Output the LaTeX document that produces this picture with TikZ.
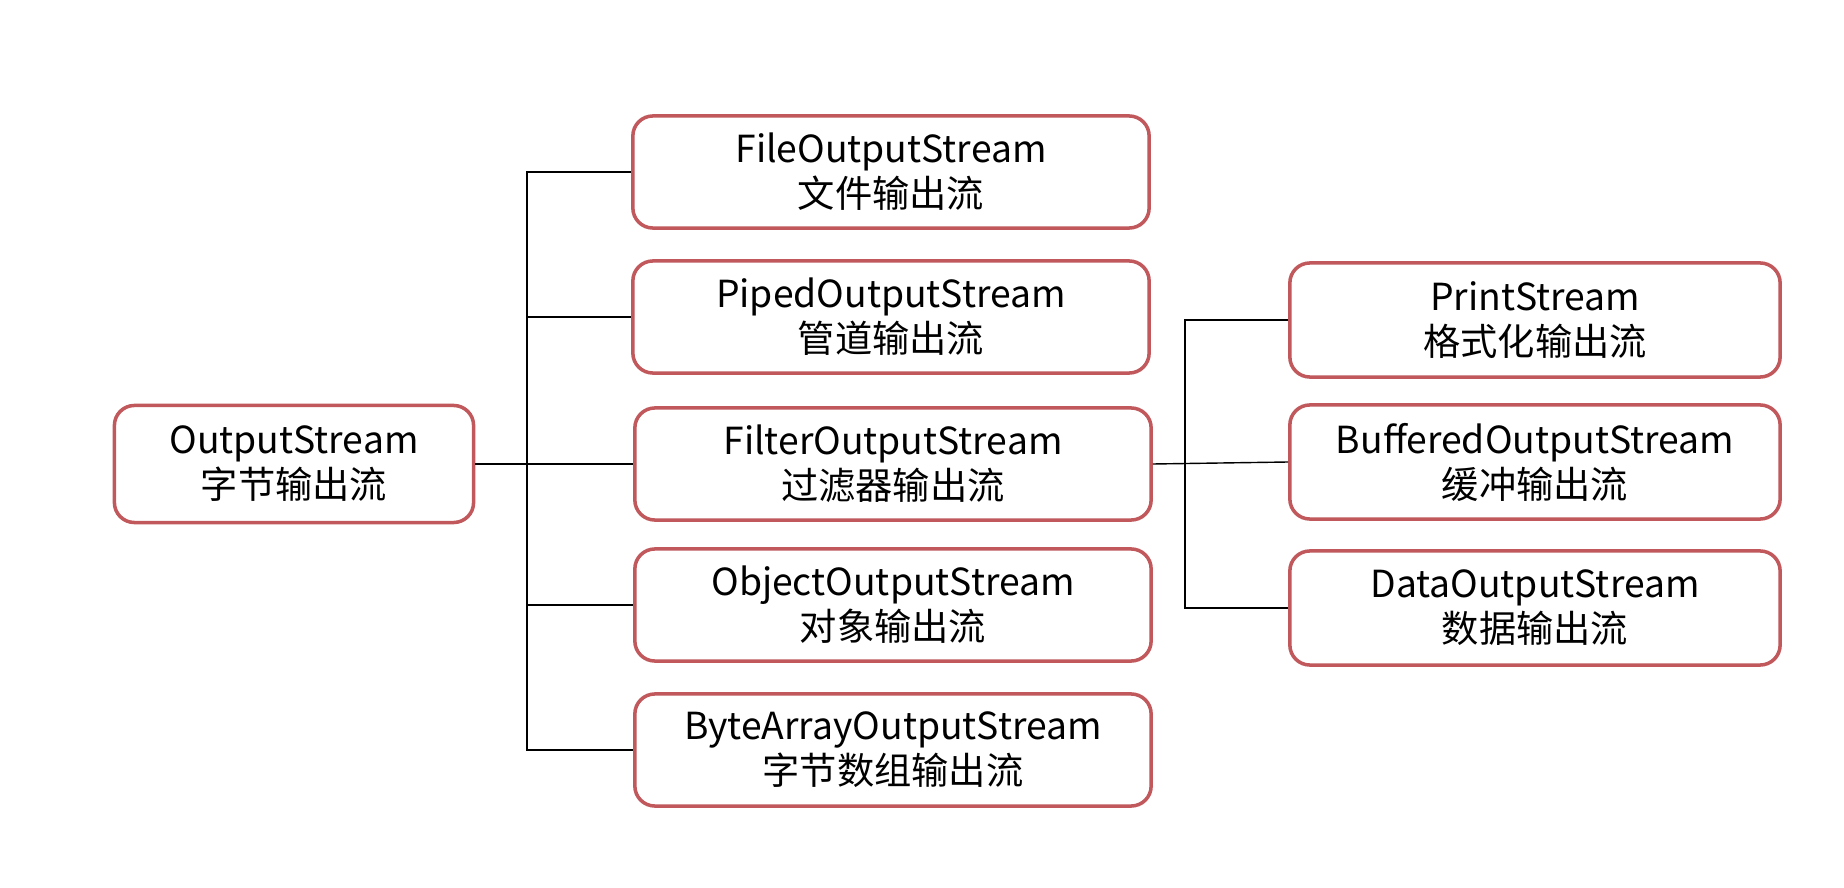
\documentclass[tikz,border=0pt]{standalone}
\usepackage{fontspec}
\setmainfont{Noto Sans CJK SC}
\definecolor{boxred}{RGB}{192,88,92}
\tikzset{
  streambox/.style={draw=boxred, line width=1pt, rounded corners=0.2cm, fill=white,
    align=center, inner sep=0pt, font=\fontsize{10.6}{12.8}\selectfont},
  midbox/.style={streambox, minimum width=5.16cm, minimum height=1.12cm},
  rightbox/.style={streambox, minimum width=4.9cm, minimum height=1.14cm},
  link/.style={draw=black, line width=0.4pt}
}
\begin{document}
\begin{tikzpicture}[x=0.01cm, y=-0.01cm]

    % Fix the page size to the reference
    \useasboundingbox (0,0) rectangle (1844,888);

    % Root box on the left
    \node[streambox, minimum width=3.59cm, minimum height=1.17cm] (Out) at (294,464) {OutputStream\\字节输出流};

    % Middle column
    \node[midbox] (File) at (891,172) {FileOutputStream\\文件输出流};
    \node[midbox] (Piped) at (891,317) {PipedOutputStream\\管道输出流};
    \node[midbox] (Filter) at (893,464) {FilterOutputStream\\过滤器输出流};
    \node[midbox] (Object) at (893,605) {ObjectOutputStream\\对象输出流};
    \node[midbox] (Byte) at (893,750) {ByteArrayOutputStream\\字节数组输出流};

    % Right column, under FilterOutputStream
    \node[rightbox] (Print) at (1535,320) {PrintStream\\格式化输出流};
    \node[rightbox] (Buffered) at (1535,462) {BufferedOutputStream\\缓冲输出流};
    \node[rightbox] (Data) at (1535,608) {DataOutputStream\\数据输出流};

    % Positions of the two vertical trunks
    \coordinate (trunkL) at (527,0);
    \coordinate (trunkR) at (1185,0);

    % Left tree
    \draw[link] (Out.east) -- (Filter.west);
    \draw[link] (File.west) -- (File.west -| trunkL) -- (Byte.west -| trunkL) -- (Byte.west);
    \draw[link] (Piped.west -| trunkL) -- (Piped.west);
    \draw[link] (Object.west -| trunkL) -- (Object.west);

    % Right tree
    \draw[link] (Filter.east) -- (Buffered.west);
    \draw[link] (Print.west) -- (Print.west -| trunkR) -- (Data.west -| trunkR) -- (Data.west);

\end{tikzpicture}
\end{document}
